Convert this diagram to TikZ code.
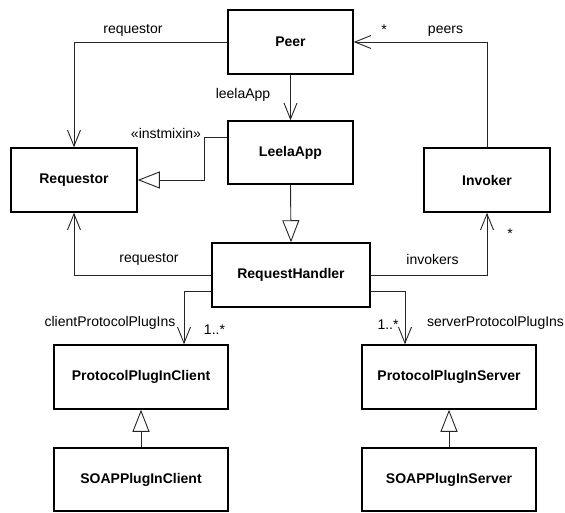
\documentclass[tikz,border=0pt]{standalone}
\usepackage{fontspec}
\setmainfont{Liberation Sans}
\usetikzlibrary{arrows.meta}
\begin{document}
\begin{tikzpicture}[x=1bp,y=-1bp,
  cls/.style={draw, line width=1.5bp, fill=white, inner sep=0pt, font=\fontsize{14bp}{16bp}\selectfont\bfseries},
  conn/.style={line width=0.9bp, draw=black!85},
  assoc/.style={conn, -{Straight Barb[length=16bp,width=13bp,line width=0.9bp]}},
  gen/.style={conn, -{Triangle[open,length=22bp,width=17bp,line width=0.9bp,fill=white]}},
  lbl/.style={font=\fontsize{14bp}{16bp}\selectfont, inner sep=0pt}]
\useasboundingbox (0,0) rectangle (565,513);
% classes
\node[cls, minimum width=125bp, minimum height=64bp] (peer) at (290.5,42) {Peer};
\node[cls, minimum width=125bp, minimum height=63bp] (leela) at (290.5,152.5) {LeelaApp};
\node[cls, minimum width=126bp, minimum height=64bp] (req) at (74,180) {Requestor};
\node[cls, minimum width=126bp, minimum height=64bp] (inv) at (487,180) {Invoker};
\node[cls, minimum width=158bp, minimum height=64bp] (rh) at (291,275) {RequestHandler};
\node[cls, minimum width=174bp, minimum height=64bp] (ppic) at (141,377) {ProtocolPlugInClient};
\node[cls, minimum width=174bp, minimum height=64bp] (ppis) at (449,377) {ProtocolPlugInServer};
\node[cls, minimum width=174bp, minimum height=63bp] (soapc) at (141,479.5) {SOAPPlugInClient};
\node[cls, minimum width=174bp, minimum height=63bp] (soaps) at (449,479.5) {SOAPPlugInServer};
% connectors
\draw[assoc] (peer.west) -| (req.north);
\draw[assoc] (peer.south) -- (leela.north);
\draw[gen] ([yshift=15.5bp]leela.west) -- ++(-23,0) |- (req.east);
\draw[assoc] (inv.north) |- (peer.east);
\draw[gen] (leela.south) -- (rh.north);
\draw[assoc] (rh.west) -| (req.south);
\draw[assoc] (rh.east) -| (inv.south);
\draw[assoc] ([yshift=-16bp]rh.west) -| ([xshift=43bp]ppic.north);
\draw[assoc] ([yshift=-16bp]rh.east) -| ([xshift=-44bp]ppis.north);
\draw[gen] (soapc.north) -- (ppic.south);
\draw[gen] (soaps.north) -- (ppis.south);
% labels
\node[lbl] (l1) at (133,30) {requestor};
\node[lbl] (l2) at (243,95) {leelaApp};
\node[lbl] (l3) at (166,133) {«instmixin»};
\node[lbl] (l4) at (384,30) {*};
\node[lbl] (l5) at (445.5,31) {peers};
\node[lbl] (l6) at (149,259) {requestor};
\node[lbl] (l7) at (432.5,259) {invokers};
\node[lbl] (l8) at (510,234) {*};
\node[lbl] (l9) at (110,323) {clientProtocolPlugIns};
\node[lbl] (l10) at (214.5,330) {1..*};
\node[lbl] (l11) at (388,325) {1..*};
\node[lbl] (l12) at (495.5,323) {serverProtocolPlugIns};
\end{tikzpicture}
\end{document}
